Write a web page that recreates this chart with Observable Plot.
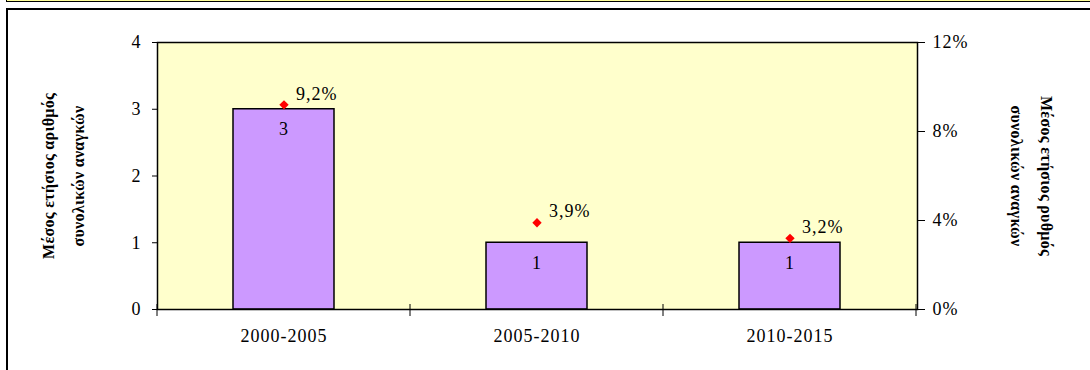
<!DOCTYPE html>
<html>
<head>
<meta charset="utf-8">
<script src="https://cdn.jsdelivr.net/npm/d3@7"></script>
<script src="https://cdn.jsdelivr.net/npm/@observablehq/plot@0.6"></script>
<style>
  html, body { margin: 0; padding: 0; background: #ffffff; }
  body { width: 1090px; height: 370px; overflow: hidden; position: relative; }
  #strip { position: absolute; left: 6px; top: -10px; width: 1200px; height: 12px;
           background: #FFFF99; border: 1px solid #000; box-sizing: border-box; }
  #box { position: absolute; left: 6px; top: 8px; width: 1200px; height: 500px;
         border: 2px solid #000; box-sizing: border-box; }
  #chart { position: absolute; left: 0; top: 0; }
  #chart svg text { letter-spacing: 1px; }
  #chart svg g[font-weight="bold"] text { letter-spacing: 0.3px; }
</style>
</head>
<body>
<div id="strip"></div>
<div id="box"></div>
<div id="chart"></div>
<script>
const categories = ["2000-2005", "2005-2010", "2010-2015"];
const counts = [3, 1, 1];
const rates = [9.2, 3.9, 3.2];
const countTicks = [0, 1, 2, 3, 4];
const rateTicks = [0, 4, 8, 12];
const countMax = 4;
const rateMax = 12;
const leftTitle = "Μέσος ετήσιος αριθμός\nσυνολικών αναγκών";
const rightTitle = "Μέσος ετήσιος ρυθμός\nσυνολικών αναγκών";

const data = categories.map((c, i) => ({category: c, count: counts[i], rate: rates[i]}));
const toY = r => r / rateMax * countMax;
const fmtRate = r => r.toFixed(1).replace(".", ",") + "%";

const plot = Plot.plot({
  width: 1090,
  height: 370,
  marginLeft: 157,
  marginRight: 173,
  marginTop: 42,
  marginBottom: 61,
  style: {fontFamily: "'Liberation Serif', 'Times New Roman', serif", fontSize: "18px", color: "#000", background: "transparent", overflow: "visible"},
  x: {domain: categories, paddingInner: 0.6, paddingOuter: 0.3},
  y: {domain: [0, countMax]},
  marks: [
    Plot.frame({fill: "#FFFFCC", stroke: "none"}),
    Plot.barY(data, {x: "category", y: "count", fill: "#CC99FF", stroke: "#000", strokeWidth: 1.5}),
    Plot.frame({stroke: "#000", strokeWidth: 1.5}),
    Plot.axisY({anchor: "left", ticks: countTicks, tickSize: 5, tickPadding: 11, tickFormat: d => String(d), label: null}),
    Plot.axisY({anchor: "right", ticks: rateTicks.map(toY), tickSize: 7, tickPadding: 8, tickFormat: (d, i) => rateTicks[i] + "%", label: null}),
    Plot.axisX({tickSize: 0, tickPadding: 20, label: null}),
    Plot.text(data, {x: "category", y: "count", text: d => String(d.count), dy: 20}),
    Plot.dot(data, {x: "category", y: d => toY(d.rate), symbol: "diamond2", r: 4.2, fill: "#FF0000", stroke: "none"}),
    Plot.text(data, {x: "category", y: d => toY(d.rate), text: d => fmtRate(d.rate), textAnchor: "start", dx: 12, dy: -11}),
    Plot.text([leftTitle], {frameAnchor: "left", text: d => d, rotate: -90, textAnchor: "middle", dx: -98, fontWeight: "bold", fontSize: 16, lineHeight: 1.875}),
    Plot.text([rightTitle], {frameAnchor: "right", text: d => d, rotate: 90, textAnchor: "middle", dx: 118, fontWeight: "bold", fontSize: 16, lineHeight: 1.875})
  ]
});

// category boundary tick marks on the x axis, derived from the band scale
const xs = plot.scale("x");
const ys = plot.scale("y");
const y0 = ys.apply(0);
const gap = (xs.step - xs.bandwidth) / 2;
const bounds = categories.map(c => xs.apply(c) - gap).concat([xs.apply(categories[categories.length - 1]) + xs.bandwidth + gap]);
d3.select(plot).append("g")
  .attr("stroke", "#000").attr("stroke-width", 1)
  .selectAll("line").data(bounds).join("line")
  .attr("x1", d => d).attr("x2", d => d)
  .attr("y1", y0 - 5).attr("y2", y0 + 7);

document.getElementById("chart").appendChild(plot);
</script>
</body>
</html>
